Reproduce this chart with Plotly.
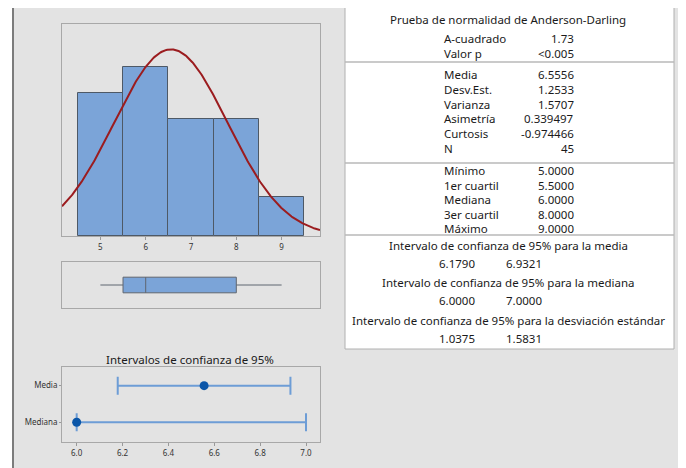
import numpy as np
import plotly.graph_objects as go

# ---------------- data ----------------
bin_centers = [5, 6, 7, 8, 9]
bin_counts = [11, 13, 9, 9, 3]
n_obs = 45
mean_val = 6.5556
sd_val = 1.2533

box_min = 5.0
box_q1 = 5.5
box_med = 6.0
box_q3 = 8.0
box_max = 9.0

ci_labels = ["Media", "Mediana"]
ci_point = [6.5556, 6.0]
ci_low = [6.1790, 6.0]
ci_high = [6.9321, 7.0]
ci_ticks = [6.0, 6.2, 6.4, 6.6, 6.8, 7.0]

ad_title = "Prueba de normalidad de Anderson-Darling"
ad_labels = ["A-cuadrado", "Valor p"]
ad_values = ["1.73", "<0.005"]
mom_labels = ["Media", "Desv.Est.", "Varianza", "Asimetría", "Curtosis", "N"]
mom_values = ["6.5556", "1.2533", "1.5707", "0.339497", "-0.974466", "45"]
q_labels = ["Mínimo", "1er cuartil", "Mediana", "3er cuartil", "Máximo"]
q_values = ["5.0000", "5.5000", "6.0000", "8.0000", "9.0000"]
int_titles = ["Intervalo de confianza de 95% para la media",
              "Intervalo de confianza de 95% para la mediana",
              "Intervalo de confianza de 95% para la desviación estándar"]
int_low = ["6.1790", "6.0000", "1.0375"]
int_high = ["6.9321", "7.0000", "1.5831"]
ci_plot_title = "Intervalos de confianza de 95%"

# ---------------- helpers ----------------
# the page body has an 8px margin, so the figure starts at (8, 8)
OFF = 8
W, H = 686 - OFF, 468 - OFF
def px(x):
    return (x - OFF) / W
def py(y):
    return 1 - (y - OFF) / H

FONT = "Noto Sans"
TXT = "#1a1a1a"
BAR = "#7BA4D8"
BAR_LINE = "#4E5966"
FRAME = "#a8a8a8"
FS = 11.5

fig = go.Figure()

# histogram
fig.add_trace(go.Bar(x=bin_centers, y=bin_counts, width=1,
                     marker=dict(color=BAR, line=dict(color=BAR_LINE, width=1)),
                     xaxis="x", yaxis="y", hoverinfo="skip"))
xs = np.linspace(4.153, 9.847, 300)
ys = n_obs * 1.0 / (sd_val * np.sqrt(2 * np.pi)) * np.exp(-0.5 * ((xs - mean_val) / sd_val) ** 2)
fig.add_trace(go.Scatter(x=xs, y=ys, mode="lines", line=dict(color="#9B1C1F", width=2),
                         xaxis="x", yaxis="y", hoverinfo="skip"))

# boxplot
fig.add_trace(go.Box(orientation="h", y=[0], q1=[box_q1], median=[box_med], q3=[box_q3],
                     lowerfence=[box_min], upperfence=[box_max], width=1,
                     whiskerwidth=0, fillcolor=BAR, line=dict(color="#5f6670", width=1),
                     xaxis="x2", yaxis="y2", hoverinfo="skip", boxpoints=False))

# CI plot
fig.add_trace(go.Scatter(
    x=ci_point, y=[1, 0], mode="markers",
    marker=dict(color="#0B56A8", size=9),
    error_x=dict(type="data", symmetric=False,
                 array=[h - p for h, p in zip(ci_high, ci_point)],
                 arrayminus=[p - l for p, l in zip(ci_point, ci_low)],
                 color="#6D9DD6", thickness=2, width=9),
    xaxis="x3", yaxis="y3", hoverinfo="skip"))

xdom = [px(62), px(320)]
axis_common = dict(showgrid=False, zeroline=False, showline=True, mirror=True,
                   linecolor=FRAME, linewidth=1)

shapes = []
# outer gray panel
shapes.append(dict(type="rect", xref="paper", yref="paper",
                   x0=px(13), x1=px(681), y0=py(490), y1=py(6),
                   fillcolor="#e3e3e3", line=dict(color="#7c7c7c", width=2), layer="below"))
# table box
shapes.append(dict(type="rect", xref="paper", yref="paper",
                   x0=px(345), x1=px(674), y0=py(349), y1=py(7),
                   fillcolor="white", line=dict(color="#b0b0b0", width=1), layer="below"))
for sy in [62, 163, 235]:
    shapes.append(dict(type="line", xref="paper", yref="paper",
                       x0=px(345), x1=px(674), y0=py(sy), y1=py(sy),
                       line=dict(color="#b8b8b8", width=1.5), layer="below"))

annotations = []
def txt(x, y, s, anchor="center", size=FS):
    annotations.append(dict(xref="paper", yref="paper", x=px(x), y=py(y), text=s,
                            showarrow=False, xanchor=anchor, yanchor="middle",
                            font=dict(family=FONT, size=size, color=TXT)))

txt(508, 20, ad_title)
LAB_X, VAL_X = 442, 576
for lab, val, y in zip(ad_labels, ad_values, [39, 53.5]):
    txt(LAB_X, y, lab, "left"); txt(VAL_X, y, val, "right")
for i, (lab, val) in enumerate(zip(mom_labels, mom_values)):
    y = 75 + i * 14.66
    txt(LAB_X, y, lab, "left"); txt(VAL_X, y, val, "right")
for i, (lab, val) in enumerate(zip(q_labels, q_values)):
    y = 170.5 + i * 14.5
    txt(LAB_X, y, lab, "left"); txt(VAL_X, y, val, "right")
for i, (t, lo, hi) in enumerate(zip(int_titles, int_low, int_high)):
    y0 = 245 + i * 37.5
    txt(508, y0, t)
    txt(457, y0 + 18.3, lo)
    txt(524, y0 + 18.3, hi)

txt(190, 359.5, ci_plot_title, size=11.5)

fig.update_layout(
    width=W, height=H, autosize=False,
    margin=dict(l=0, r=0, t=0, b=0),
    paper_bgcolor="white", plot_bgcolor="white",
    showlegend=False,
    font=dict(family=FONT, color=TXT),
    bargap=0,
    xaxis=dict(domain=xdom, range=[4.153, 9.847], anchor="y",
               tickvals=bin_centers, ticks="outside", ticklen=3, tickcolor="#999999",
               tickfont=dict(size=8, color="#333333"), **axis_common),
    yaxis=dict(domain=[py(236), py(24)], range=[0, 16.27], anchor="x",
               showticklabels=False, ticks="", **axis_common),
    xaxis2=dict(domain=xdom, range=[4.153, 9.847], anchor="y2",
                showticklabels=False, ticks="", **axis_common),
    yaxis2=dict(domain=[py(308), py(262)], range=[-1.47, 1.47], anchor="x2",
                showticklabels=False, ticks="", **axis_common),
    xaxis3=dict(domain=xdom, range=[5.936, 7.061], anchor="y3",
                tickvals=ci_ticks, tickformat=".1f", ticks="outside", ticklen=3,
                tickcolor="#999999", tickfont=dict(size=8, color="#333333"), **axis_common),
    yaxis3=dict(domain=[py(442), py(367)], range=[-0.54, 1.51], anchor="x3",
                tickvals=[1, 0], ticktext=ci_labels, ticks="outside", ticklen=2,
                tickcolor="#999999", tickfont=dict(size=8, color="#333333"), **axis_common),
    shapes=shapes,
    annotations=annotations,
)

fig.write_html("out.html")
